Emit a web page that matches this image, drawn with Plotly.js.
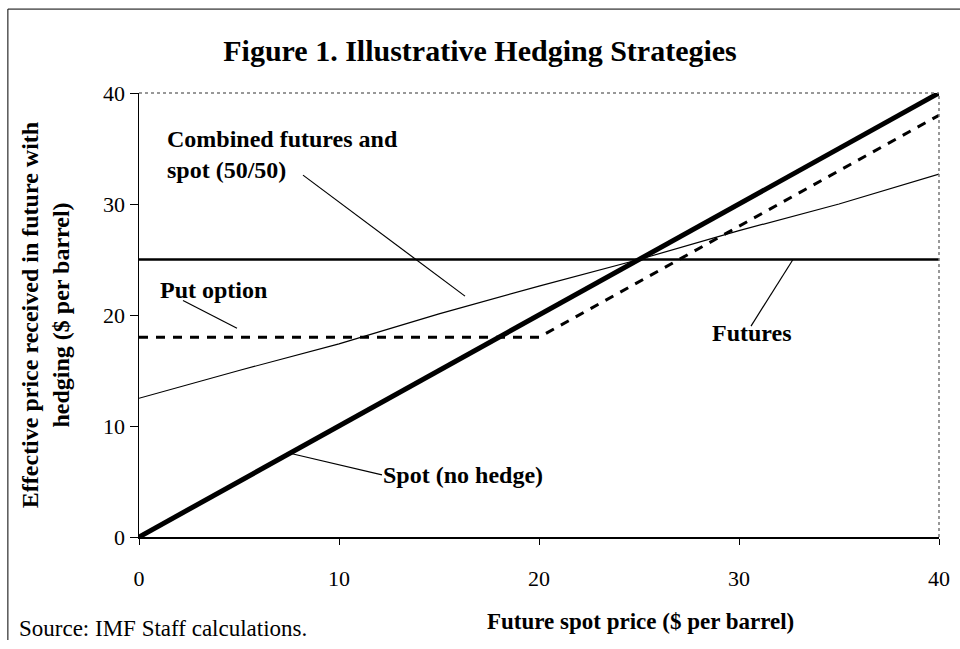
<!DOCTYPE html>
<html>
<head>
<meta charset="utf-8">
<script src="https://cdn.plot.ly/plotly-3.0.1.min.js"></script>
<style>html,body{margin:0;padding:0;background:#fff;}#chart{width:960px;height:649px;}</style>
</head>
<body>
<div id="chart"></div>
<script>
// Data
const spotX = [0, 40];
const spotY = [0, 40];
const futuresX = [0, 40];
const futuresY = [25, 25];
const combinedX = [0, 5, 10, 15, 20, 25, 30, 35, 40];
const combinedY = [12.5, 15.0, 17.4, 20.1, 22.6, 25.0, 27.6, 30.0, 32.7];
const putX = [0, 20, 40];
const putY = [18, 18, 38];
const xTicks = [0, 10, 20, 30, 40];
const yTicks = [0, 10, 20, 30, 40];

const serif = 'Liberation Serif, Times New Roman, serif';

const traces = [
  {x: futuresX, y: futuresY, mode: 'lines', name: 'Futures', line: {color: '#000', width: 2.5}},
  {x: combinedX, y: combinedY, mode: 'lines', name: 'Combined futures and spot (50/50)', line: {color: '#000', width: 1.2}},
  {x: putX, y: putY, mode: 'lines', name: 'Put option', line: {color: '#000', width: 3, dash: '9px,8px'}},
  {x: spotX, y: spotY, mode: 'lines', name: 'Spot (no hedge)', line: {color: '#000', width: 5}}
];

const lbl = {family: serif, size: 24, color: '#000'};
const layout = {
  width: 960, height: 649,
  margin: {l: 139, r: 21, t: 93, b: 112},
  paper_bgcolor: '#fff', plot_bgcolor: '#fff',
  showlegend: false,
  title: {text: '<b>Figure 1. Illustrative Hedging Strategies</b>', font: {family: serif, size: 30, color: '#000'}, x: 0.5, xanchor: 'center', y: 0.922, yanchor: 'middle'},
  xaxis: {range: [0, 40], tickvals: xTicks, ticks: 'outside', ticklen: 6, tickcolor: '#000',
          showgrid: false, zeroline: false, showline: true, linecolor: '#000', linewidth: 1.5,
          tickfont: {family: serif, size: 22, color: '#000'}, ticklabelstandoff: 15, fixedrange: true},
  yaxis: {range: [0, 40], tickvals: yTicks, ticks: 'outside', ticklen: 8, tickcolor: '#000',
          showgrid: false, zeroline: false, showline: true, linecolor: '#000', linewidth: 1.5,
          tickfont: {family: serif, size: 22, color: '#000'},
          title: {text: '<b>Effective price received in future with<br>hedging ($ per barrel)</b>', font: {family: serif, size: 24, color: '#000'}, standoff: 26},
          fixedrange: true},
  shapes: [
    {type: 'line', xref: 'paper', yref: 'paper', x0: 0, x1: 1, y0: 1, y1: 1, line: {color: '#777', width: 1.5, dash: 'dot'}},
    {type: 'line', xref: 'paper', yref: 'paper', x0: 1, x1: 1, y0: 0, y1: 1, line: {color: '#777', width: 1.5, dash: 'dot'}},
    // figure frame (top and left)
    {type: 'line', xref: 'paper', yref: 'paper', x0: -0.1639, x1: 1.05, y0: 1.189, y1: 1.189, line: {color: '#000', width: 1}},
    {type: 'line', xref: 'paper', yref: 'paper', x0: -0.1639, x1: -0.1639, y0: 1.189, y1: -0.232, line: {color: '#000', width: 1}},
    // leader lines
    {type: 'line', xref: 'x', yref: 'y', x0: 8.2, y0: 32.6, x1: 16.3, y1: 21.7, line: {color: '#000', width: 1.2}},
    {type: 'line', xref: 'x', yref: 'y', x0: 2.2, y0: 21.3, x1: 4.9, y1: 18.8, line: {color: '#000', width: 1.2}},
    {type: 'line', xref: 'x', yref: 'y', x0: 32.7, y0: 25, x1: 30.6, y1: 19.0, line: {color: '#000', width: 1.2}},
    {type: 'line', xref: 'x', yref: 'y', x0: 7.65, y0: 7.5, x1: 12.15, y1: 5.6, line: {color: '#000', width: 1.2}}
  ],
  annotations: [
    {xref: 'paper', yref: 'paper', x: 0.0325, y: 0.862, xanchor: 'left', yanchor: 'middle', align: 'left', showarrow: false,
     text: '<b>Combined futures and<br>spot (50/50)</b>', font: lbl},
    {xref: 'paper', yref: 'paper', x: 0.0237, y: 0.556, xanchor: 'left', yanchor: 'middle', showarrow: false,
     text: '<b>Put option</b>', font: lbl},
    {xref: 'paper', yref: 'paper', x: 0.714, y: 0.459, xanchor: 'left', yanchor: 'middle', showarrow: false,
     text: '<b>Futures</b>', font: lbl},
    {xref: 'paper', yref: 'paper', x: 0.303, y: 0.14, xanchor: 'left', yanchor: 'middle', showarrow: false,
     text: '<b>Spot (no hedge)</b>', font: lbl},
    {xref: 'paper', yref: 'paper', x: 0.627, y: -0.19, xanchor: 'center', yanchor: 'middle', showarrow: false,
     text: '<b>Future spot price ($ per barrel)</b>', font: {family: serif, size: 23, color: '#000'}},
    {xref: 'paper', yref: 'paper', x: -0.152, y: -0.205, xanchor: 'left', yanchor: 'middle', showarrow: false,
     text: 'Source: IMF Staff calculations.', font: {family: serif, size: 23, color: '#000'}}
  ]
};

Plotly.newPlot('chart', traces, layout, {displayModeBar: false, staticPlot: true});
</script>
</body>
</html>
